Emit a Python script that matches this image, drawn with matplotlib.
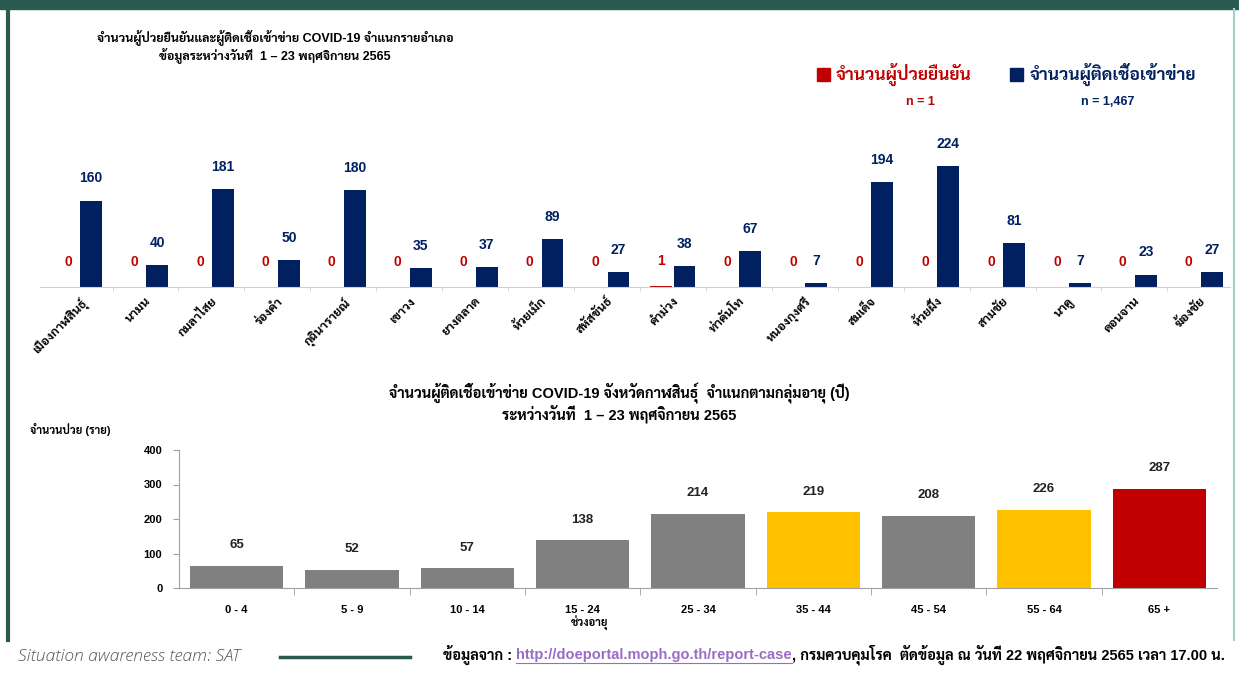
import matplotlib
matplotlib.use("Agg")
import matplotlib.pyplot as plt
import numpy as np

# fonts: latin first, thai fallback (needs a bold thai face)
FONT = ["Liberation Sans", "Sarabun", "Bai Jamjuree", "Noto Sans Thai", "DejaVu Sans"]
plt.rcParams["font.family"] = FONT

# data
districts = ["เมืองกาฬสินธุ์", "นามน", "กมลาไสย", "ร่องคำ", "กุฉินารายณ์", "เขาวง",
             "ยางตลาด", "ห้วยเม็ก", "สหัสขันธ์", "คำม่วง", "ท่าคันโท", "หนองกุงศรี",
             "สมเด็จ", "ห้วยผึ้ง", "สามชัย", "นาคู", "ดอนจาน", "ฆ้องชัย"]
confirmed = [0, 0, 0, 0, 0, 0, 0, 0, 0, 1, 0, 0, 0, 0, 0, 0, 0, 0]
probable = [160, 40, 181, 50, 180, 35, 37, 89, 27, 38, 67, 7, 194, 224, 81, 7, 23, 27]

age_groups = ["0 - 4", "5 - 9", "10 - 14", "15 - 24", "25 - 34", "35 - 44",
              "45 - 54", "55 - 64", "65 +"]
age_cases = [65, 52, 57, 138, 214, 219, 208, 226, 287]
age_colors = ["#808080", "#808080", "#808080", "#808080", "#808080",
              "#FFC000", "#808080", "#FFC000", "#C00000"]

RED = "#C00000"
NAVY = "#002060"
GREEN = "#2b5a50"

W, H = 1239, 675
fig = plt.figure(figsize=(W / 100, H / 100), dpi=100)

def fx(px):
    return px / W

def fy(py):
    return 1 - py / H

# frame decorations
fig.patches.append(plt.Rectangle((0, fy(9)), 1, 9 / H, transform=fig.transFigure,
                                 color=GREEN, zorder=0))
fig.add_artist(plt.Line2D([fx(8), fx(8)], [fy(9), fy(640)], color=GREEN, lw=3))
fig.add_artist(plt.Line2D([fx(1234), fx(1234)], [fy(9), fy(640)], color="#9fd3c7", lw=1.5))

# ---- top chart: by district ----
ax1 = fig.add_axes([fx(40), fy(287), fx(1230) - fx(40), (287 - 125) / H])
x = np.arange(len(districts))
bw = 0.33
ax1.bar(x - bw / 2 - 0.01, confirmed, bw, color=RED)
ax1.bar(x + bw / 2 + 0.01, probable, bw, color=NAVY)
for xi, c, p in zip(x, confirmed, probable):
    ax1.annotate(str(c), (xi - bw / 2 - 0.01, c), xytext=(0, 18), textcoords="offset points",
                 ha="center", va="center", color=RED, fontsize=10, fontweight="bold")
    ax1.annotate(str(p), (xi + bw / 2 + 0.01, p), xytext=(0, 16), textcoords="offset points",
                 ha="center", va="center", color=NAVY, fontsize=10, fontweight="bold")
ax1.set_xlim(-0.6, len(districts) - 0.55)
ax1.set_ylim(0, 300)
for s in ["top", "right", "left"]:
    ax1.spines[s].set_visible(False)
ax1.spines["bottom"].set_color("#d0d0d0")
ax1.set_yticks([])
ax1.set_xticks(x)
ax1.set_xticklabels(districts, rotation=45, ha="right", rotation_mode="anchor",
                    fontsize=9, fontweight="bold")
ax1.tick_params(axis="x", length=0, pad=6)
ax1.set_xticks(x[:-1] + 0.5, minor=True)
ax1.tick_params(axis="x", which="minor", length=3, color="#d0d0d0")

fig.text(fx(275), fy(37), "จำนวนผู้ป่วยยืนยันและผู้ติดเชื้อเข้าข่าย COVID-19 จำแนกรายอำเภอ",
         ha="center", va="center", fontsize=9, fontweight="bold")
fig.text(fx(275), fy(55), "ข้อมูลระหว่างวันที่  1 – 23 พฤศจิกายน 2565",
         ha="center", va="center", fontsize=9, fontweight="bold")

# legend
fig.patches.append(plt.Rectangle((fx(817), fy(81)), 13 / W, 13 / H,
                                 transform=fig.transFigure, color=RED))
fig.text(fx(836), fy(74), "จำนวนผู้ป่วยยืนยัน", ha="left", va="center",
         fontsize=12.5, fontweight="bold", color=RED)
fig.text(fx(920), fy(102), "n = 1", ha="center", va="center",
         fontsize=9, fontweight="bold", color=RED)
fig.patches.append(plt.Rectangle((fx(1010), fy(81)), 13 / W, 13 / H,
                                 transform=fig.transFigure, color=NAVY))
fig.text(fx(1030), fy(74), "จำนวนผู้ติดเชื้อเข้าข่าย", ha="left", va="center",
         fontsize=12.5, fontweight="bold", color=NAVY)
fig.text(fx(1108), fy(102), "n = 1,467", ha="center", va="center",
         fontsize=9, fontweight="bold", color=NAVY)

# ---- bottom chart: by age ----
ax2 = fig.add_axes([fx(179), fy(588), fx(1217) - fx(179), (588 - 450) / H])
xa = np.arange(len(age_groups))
ax2.bar(xa, age_cases, 0.81, color=age_colors)
for xi, v in zip(xa, age_cases):
    ax2.annotate(str(v), (xi, v), xytext=(0, 15), textcoords="offset points",
                 ha="center", va="center", color="#222222", fontsize=9.5, fontweight="bold")
ax2.set_xlim(-0.5, len(age_groups) - 0.5)
ax2.set_ylim(0, 400)
ax2.set_yticks([0, 100, 200, 300, 400])
ax2.tick_params(axis="y", labelsize=8, length=4, color="#a0a0a0", pad=8)
for lbl in ax2.get_yticklabels():
    lbl.set_fontweight("bold")
for s in ["top", "right"]:
    ax2.spines[s].set_visible(False)
ax2.spines["left"].set_color("#a0a0a0")
ax2.spines["bottom"].set_color("#a0a0a0")
ax2.set_xticks(xa)
ax2.set_xticklabels(age_groups, fontsize=8, fontweight="bold")
ax2.tick_params(axis="x", length=0, pad=12)
ax2.set_xticks(xa[:-1] + 0.5, minor=True)
ax2.tick_params(axis="x", which="minor", length=5, color="#a0a0a0")
ax2.text(fx(590), fy(623), "ช่วงอายุ", transform=fig.transFigure, ha="center", va="center",
         fontsize=8, fontweight="bold")

fig.text(fx(619), fy(393), "จำนวนผู้ติดเชื้อเข้าข่าย COVID-19 จังหวัดกาฬสินธุ์  จำแนกตามกลุ่มอายุ (ปี)",
         ha="center", va="center", fontsize=10.5, fontweight="bold")
fig.text(fx(619), fy(414), "ระหว่างวันที่  1 – 23 พฤศจิกายน 2565",
         ha="center", va="center", fontsize=10.5, fontweight="bold")
fig.text(fx(30), fy(429), "จำนวนป่วย (ราย)", ha="left", va="center",
         fontsize=8, fontweight="bold")

# footer
fig.text(fx(18), fy(657), "Situation awareness team: SAT", ha="left", va="center",
         fontsize=12.5, style="italic", color="#555555", fontweight="light",
         family=["Open Sans", "DejaVu Sans"])
fig.add_artist(plt.Line2D([fx(280), fx(410)], [fy(657), fy(657)], color=GREEN, lw=2.5))
t1 = fig.text(fx(443), fy(655), "ข้อมูลจาก : ", ha="left", va="center",
              fontsize=10.5, fontweight="bold")
fig.canvas.draw()
r = fig.canvas.get_renderer()
bb = t1.get_window_extent(r)
t2 = fig.text(bb.x1 / W, fy(655), "http://doeportal.moph.go.th/report-case", ha="left",
              va="center", fontsize=10.5, fontweight="bold", color="#9a6cc8")
bb2 = t2.get_window_extent(r)
fig.add_artist(plt.Line2D([bb2.x0 / W, bb2.x1 / W], [(bb2.y0 - 1) / H] * 2,
                          color="#9a6cc8", lw=0.8))
fig.text(bb2.x1 / W, fy(655), ", กรมควบคุมโรค  ตัดข้อมูล ณ วันที่ 22 พฤศจิกายน 2565 เวลา 17.00 น.",
         ha="left", va="center", fontsize=10.5, fontweight="bold")

fig.savefig("out.png", dpi=100)
